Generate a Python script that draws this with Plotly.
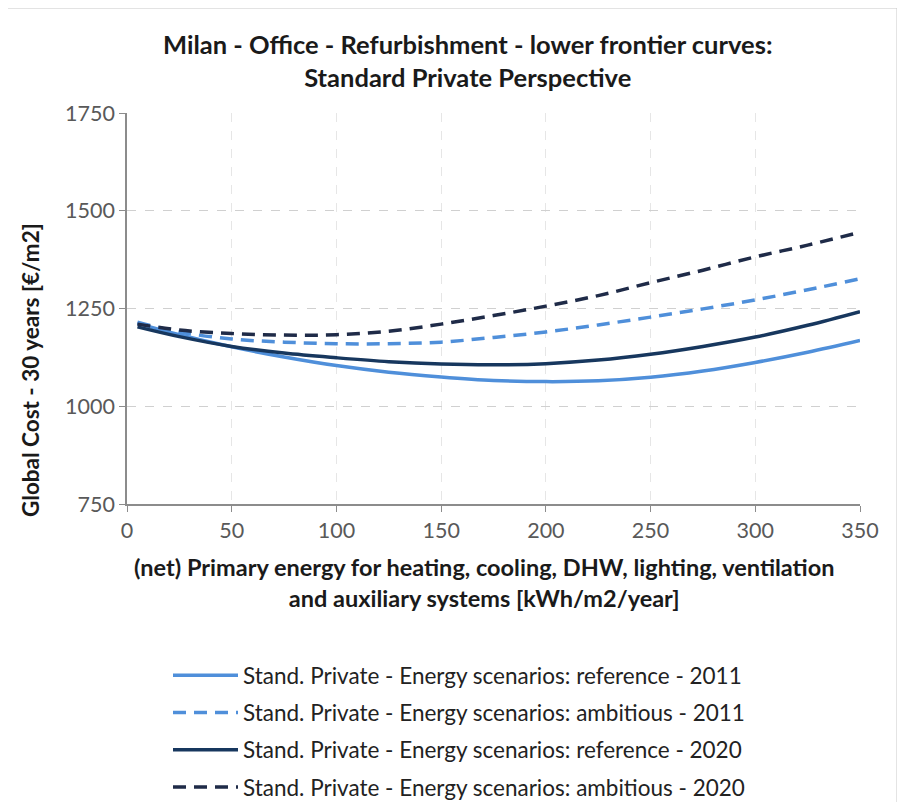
import plotly.graph_objects as go

# energy (x) and global cost values
energy = [5, 25, 50, 75, 100, 125, 150, 175, 200, 225, 250, 275, 300, 325, 350]
ref_2011 = [1212, 1183, 1152, 1126, 1104, 1087, 1075, 1066, 1063, 1065, 1074, 1090, 1112, 1138, 1168]
amb_2011 = [1215, 1190, 1172, 1164, 1160, 1160, 1164, 1176, 1190, 1208, 1228, 1249, 1272, 1298, 1326]
ref_2020 = [1203, 1178, 1153, 1136, 1124, 1114, 1108, 1106, 1109, 1118, 1133, 1153, 1177, 1207, 1242]
amb_2020 = [1210, 1195, 1186, 1182, 1183, 1192, 1210, 1232, 1256, 1283, 1316, 1348, 1382, 1412, 1445]

names = [
    "Stand. Private - Energy scenarios: reference - 2011",
    "Stand. Private - Energy scenarios: ambitious - 2011",
    "Stand. Private - Energy scenarios: reference - 2020",
    "Stand. Private - Energy scenarios: ambitious - 2020",
]
series = [ref_2011, amb_2011, ref_2020, amb_2020]
colors = ["#4F8FDA", "#4F8FDA", "#17375E", "#1F2B48"]
dashes = ["solid", "13px,8px", "solid", "13px,8px"]

FONT = "Lato"

fig = go.Figure()
for i, (name, ys, c, d) in enumerate(zip(names, series, colors, dashes)):
    fig.add_trace(go.Scatter(x=energy, y=ys, mode="lines", name=name, legendgroup=f"g{i}",
                             line=dict(color=c, width=3.5, dash=d, shape="spline")))

# page is offset by 8px body margin; plot area aimed at page x 127..860, y 113..504
fig.update_layout(
    width=905, height=802,
    margin=dict(l=119, r=53, t=105, b=306, autoexpand=False),
    paper_bgcolor="white", plot_bgcolor="white",
    font=dict(family=FONT, size=21, color="#595959"),
    showlegend=True,
    legend=dict(x=(168 - 127) / 733, y=1 - 646 / 802, yref="container",
                xanchor="left", yanchor="top",
                font=dict(family=FONT, size=22.5, color="#222222"),
                tracegroupgap=5, itemwidth=65),
)
fig.update_xaxes(range=[0, 350], tickvals=[0, 50, 100, 150, 200, 250, 300, 350],
                 showline=True, linecolor="#8C8C8C", linewidth=1.5,
                 ticks="outside", ticklen=6, tickcolor="#8C8C8C",
                 showgrid=True, gridcolor="#E6E6E6", griddash="dash", gridwidth=1,
                 zeroline=False, tickfont=dict(size=21.5), automargin=False)
fig.update_yaxes(range=[750, 1750], tickvals=[750, 1000, 1250, 1500, 1750],
                 showline=True, linecolor="#8C8C8C", linewidth=1.5,
                 ticks="outside", ticklen=6, tickcolor="#8C8C8C",
                 showgrid=True, gridcolor="#D0D0D0", griddash="dash", gridwidth=1,
                 zeroline=False, tickfont=dict(size=21.5), automargin=False)

# titles
fig.add_annotation(text="<b>Milan - Office - Refurbishment - lower frontier curves:<br>Standard Private Perspective</b>",
                   xref="paper", yref="paper", x=(467 - 127) / 733, y=(504 - 60) / 391,
                   showarrow=False, font=dict(family=FONT, size=25.5, color="#1A1A1A"),
                   align="center", yanchor="middle")
fig.add_annotation(text="<b>(net) Primary energy for heating, cooling, DHW, lighting, ventilation<br>and auxiliary systems [kWh/m2/year]</b>",
                   xref="paper", yref="paper", x=(484 - 127) / 733, y=(504 - 582) / 391,
                   showarrow=False, font=dict(family=FONT, size=23.5, color="#1A1A1A"),
                   align="center", yanchor="middle")
fig.add_annotation(text="<b>Global Cost - 30 years [€/m2]</b>",
                   xref="paper", yref="paper", x=(30 - 127) / 733, y=(504 - 370) / 391,
                   showarrow=False, textangle=-90, font=dict(family=FONT, size=22.5, color="#1A1A1A"),
                   xanchor="center", yanchor="middle")

# chart border
fig.add_shape(type="rect", xref="paper", yref="paper",
              x0=(6 - 127) / 733, x1=(897 - 127) / 733,
              y0=(504 - 810) / 391, y1=(504 - 8) / 391,
              line=dict(color="#C8C8C8", width=1))

fig.write_html("out.html")
